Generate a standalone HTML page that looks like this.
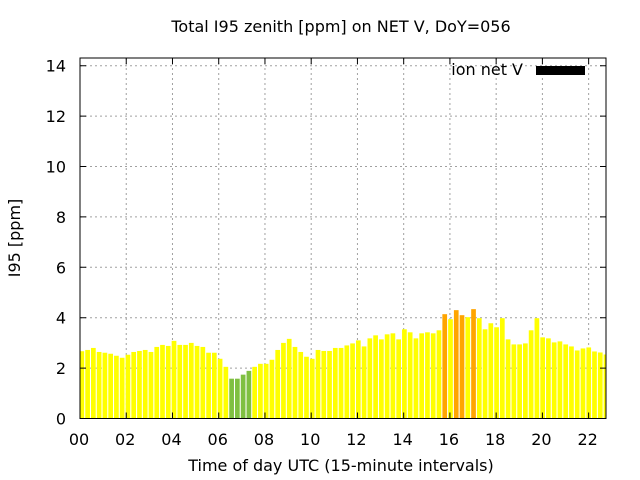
<!DOCTYPE html>
<html><head><meta charset="utf-8"><style>
body{margin:0;background:#fff;}
svg{display:block;font-family:"DejaVu Sans","Liberation Sans",sans-serif;}
</style></head><body>
<svg id="chart" width="640" height="480">
<defs><clipPath id="plotclip"><rect x="80" y="58" width="526" height="361"/></clipPath></defs>
<rect width="640" height="480" fill="#fff"/>
<text x="341" y="32" font-size="16" text-anchor="middle">Total I95 zenith [ppm] on NET V, DoY=056</text>
<g id="grid"></g>
<g id="bars" clip-path="url(#plotclip)"></g>
<g id="axes"></g>
<text x="0" y="0" font-size="16" text-anchor="middle" transform="translate(20,238) rotate(-90)">I95 [ppm]</text>
<text x="341" y="471" font-size="16" text-anchor="middle">Time of day UTC (15-minute intervals)</text>
<g>
<text x="523" y="75" font-size="16" text-anchor="end">ion net V</text>
<rect x="536" y="66" width="49" height="9" fill="#000"/>
</g>
</svg>
<script>
const values = [2.67,2.72,2.80,2.64,2.61,2.57,2.49,2.41,2.53,2.64,2.68,2.72,2.64,2.84,2.92,2.88,3.08,2.92,2.92,3.00,2.88,2.84,2.61,2.61,
2.37,2.05,1.58,1.58,1.74,1.89,2.05,2.17,2.17,2.33,2.72,3.00,3.16,2.84,2.64,2.45,2.37,2.72,2.68,2.68,2.80,2.80,
2.90,2.98,3.10,2.86,3.18,3.30,3.14,3.34,3.38,3.14,3.54,3.42,3.18,3.38,3.42,3.38,3.50,4.14,3.94,4.30,4.10,4.02,4.34,3.98,3.54,3.78,3.62,3.98,3.14,2.94,2.94,2.98,3.50,3.98,3.22,3.18,3.02,3.06,2.94,2.86,2.70,2.78,2.82,2.66,2.62,2.54];
const yTicks = [0,2,4,6,8,10,12,14];
const xTickHours = [0,2,4,6,8,10,12,14,16,18,20,22];
const xTickLabels = ["00","02","04","06","08","10","12","14","16","18","20","22"];

const NS = "http://www.w3.org/2000/svg";
const L = 80, R = 606, T = 58, B = 418.5;
function yScale(v){ return B - v * 25.2; }
function xHour(h){ return 80 + h * 23.12; }
function xBar(i){ return 79.5 + i * 5.76; }
function mk(tag, attrs, parent){ const e = document.createElementNS(NS, tag); for (const k in attrs) e.setAttribute(k, attrs[k]); parent.appendChild(e); return e; }
function colorFor(v){ return v < 2 ? "#7fc041" : (v >= 4.05 ? "#ffa500" : "#ffff00"); }

const grid = document.getElementById("grid");
const axes = document.getElementById("axes");
const bars = document.getElementById("bars");

yTicks.forEach((t) => {
  const y = yScale(t);
  if (t > 0) {
    const g = mk("line", {x1: L, x2: R, y1: y, y2: y, stroke: "#a0a0a0", "stroke-dasharray": "2,3", "stroke-width": 1}, grid);
    
    
  }
  const tk = mk("path", {d: `M${L},${y}h6M${R},${y}h-6`, stroke: "#000", "stroke-width": 1}, axes);
  
  
  const lb = mk("text", {x: 66, y: y + 6, "font-size": 16, "text-anchor": "end"}, axes);
  lb.textContent = t;
  
  
});

xTickHours.forEach((h, i) => {
  const x = xHour(h);
  if (h > 0) {
    const g = mk("line", {x1: x, x2: x, y1: T, y2: B, stroke: "#a0a0a0", "stroke-dasharray": "2,3", "stroke-width": 1}, grid);
    
    
  }
  const tk = mk("path", {d: `M${x},${B}v-6M${x},${T}v6`, stroke: "#000", "stroke-width": 1}, axes);
  
  
  const lb = mk("text", {x: x - 1, y: 445, "font-size": 16, "text-anchor": "middle"}, axes);
  lb.textContent = xTickLabels[i];
  
  
});

values.forEach((v, i) => {
  const y = yScale(v);
  const r = mk("rect", {x: xBar(i), y: y, width: 4.7, height: B - y, fill: colorFor(v)}, bars);
  
  
});

const frame = mk("rect", {x: L, y: T, width: R - L, height: B - T, fill: "none", stroke: "#000", "stroke-width": 1}, axes);


</script>
</body></html>
